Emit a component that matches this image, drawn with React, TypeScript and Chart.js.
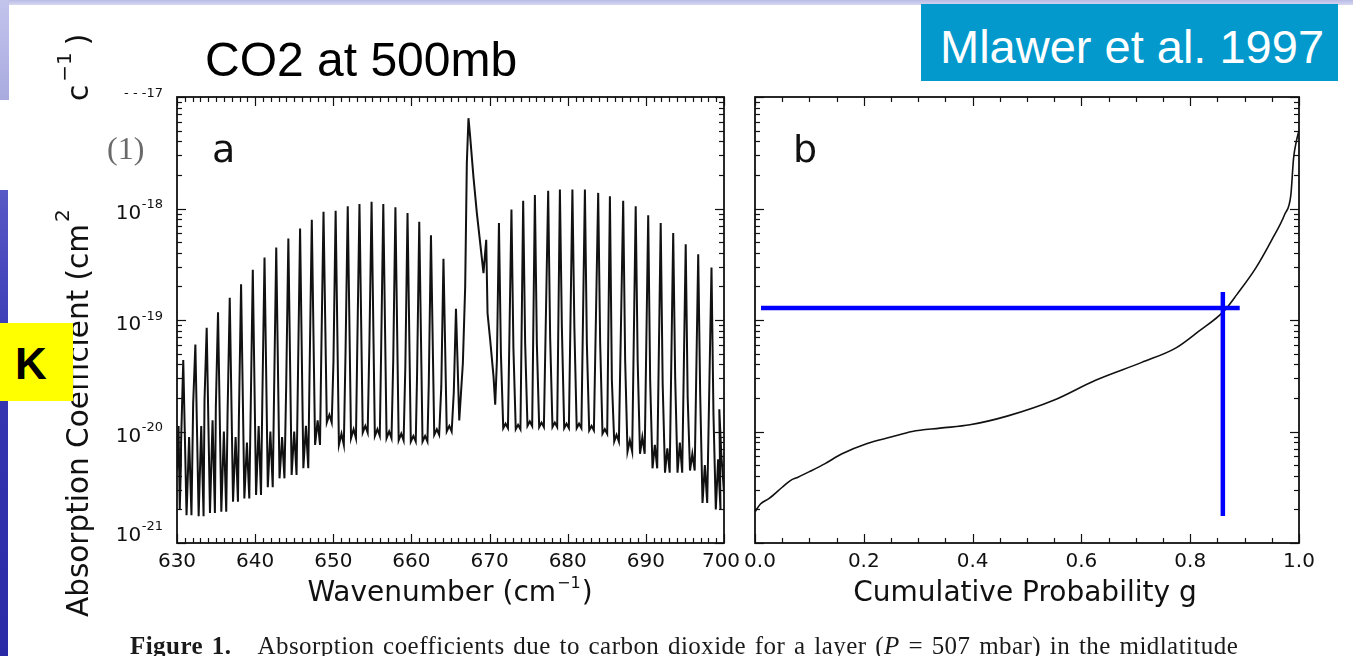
import React, { useEffect, useRef } from 'react';
import { Chart, registerables } from 'chart.js';

Chart.register(...registerables);

// ---------------- Panel a : CO2 absorption spectrum (log10 k, cm^2) ----------------
// left edge, before the first resolved P line
const edgeNu = [630.0, 630.2, 630.35, 630.5];
const edgeLogK = [-20.35, -19.95, -20.7, -20.3];

// P branch main lines
const pLineNu = [630.8, 632.35, 633.8, 635.25, 636.75, 638.2, 639.7, 641.2, 642.7, 644.25, 645.75, 647.25,
  648.75, 650.3, 651.85, 653.35, 654.9, 656.4, 657.95, 659.5, 661.0, 662.5, 664.1, 665.7];
const pPeakLogK = [-19.36, -19.22, -19.07, -18.93, -18.80, -18.68, -18.55, -18.44, -18.35, -18.27, -18.18, -18.10,
  -18.03, -18.02, -17.98, -17.96, -17.94, -17.96, -17.99, -18.04, -18.12, -18.24, -18.45, -18.90];
// weaker line level just before each main line
const pShoulderLogK = [-20.1, -19.75, -19.72, -19.78, -19.85, -19.88, -19.85, -19.72, -19.67, -19.6, -19.55, -19.45,
  -19.28, -19.38, -19.28, -19.25, -19.22, -19.3, -19.37, -19.42, -19.5, -19.57, -19.6, -19.65];
// minima after each main line
const pTroughLogK = [-20.75, -20.76, -20.73, -20.72, -20.63, -20.60, -20.57, -20.50, -20.42, -20.39, -20.33, -20.12,
  -19.92, -20.12, -20.06, -20.01, -20.04, -20.06, -20.08, -20.09, -20.09, -20.03, -20.0, -19.9];
// weak line / flat bottom between the two minima after each main line
const pMidLogK = [-20.05, -19.95, -19.9, -20.0, -20.05, -20.1, -19.95, -20.0, -20.05, -20.0, -19.95, -19.9,
  -19.85, -20.02, -19.98, -19.95, -19.98, -20.0, -20.02, -20.04, -20.04, -19.98, -19.95, -19.88];

// Q branch
const qNu = [666.58, 666.88, 667.09, 667.3, 667.52, 667.94, 668.37, 668.8, 669.22, 669.57, 669.74, 670.08, 670.51, 670.72, 670.94];
const qLogK = [-19.39, -18.70, -17.59, -17.19, -17.36, -17.72, -18.04, -18.31, -18.58, -18.28, -18.94, -19.18, -19.51, -19.76, -19.36];

// R branch main lines
const rLineNu = [671.2, 672.8, 674.3, 675.8, 677.5, 679.0, 680.6, 682.2, 683.9, 685.4, 687.1, 688.7, 690.3,
  691.9, 693.5, 695.1, 696.7, 698.4, 699.4];
const rPeakLogK = [-18.13, -18.01, -17.93, -17.88, -17.84, -17.83, -17.83, -17.83, -17.86, -17.89, -17.93, -17.98,
  -18.06, -18.13, -18.22, -18.32, -18.41, -18.53, -19.8];
const rShoulderLogK = [-19.3, -19.25, -19.2, -19.21, -19.15, -19.06, -19.06, -19.21, -19.2, -19.54, -19.36, -19.36,
  -19.54, -19.57, -19.51, -19.69, -19.66, -19.84, -20.2];
const rTroughLogK = [-19.97, -19.98, -19.95, -19.96, -19.96, -19.97, -19.97, -19.99, -20.02, -20.09, -20.18, -20.20,
  -20.33, -20.37, -20.37, -20.35, -20.64, -20.70, -20.5];
const rMidLogK = [-19.93, -19.94, -19.91, -19.92, -19.92, -19.93, -19.93, -19.95, -19.98, -20.03, -20.08, -20.05,
  -20.12, -20.15, -20.1, -20.2, -20.3, -20.25, -20.4];

const xTicksA = [630, 640, 650, 660, 670, 680, 690, 700];
const yDecades = [-21, -20, -19, -18, -17];

// ---------------- Panel b : k-distribution ----------------
const gValues = [0.0, 0.01, 0.026, 0.05, 0.065, 0.079, 0.1, 0.128, 0.16, 0.205, 0.25, 0.289, 0.34, 0.395, 0.465,
  0.549, 0.626, 0.711, 0.774, 0.816, 0.862, 0.886, 0.921, 0.949, 0.974, 0.985, 0.99, 0.995, 1.0];
const gLogK = [-20.72, -20.65, -20.60, -20.50, -20.44, -20.41, -20.36, -20.29, -20.20, -20.11, -20.05, -20.00, -19.97,
  -19.94, -19.86, -19.72, -19.54, -19.38, -19.25, -19.10, -18.92, -18.77, -18.53, -18.29, -18.05, -17.88, -17.55, -17.40, -17.3];
const xTicksB = [0, 0.2, 0.4, 0.6, 0.8, 1.0];

// blue guide lines
const guideHG = [0.011, 0.891];
const guideHK = [1.28e-19, 1.28e-19];
const guideVG = [0.86, 0.86];
const guideVK = [1.78e-19, 1.75e-21];

const W = 1353;
const H = 656;
const FONT = '"DejaVu Sans", sans-serif';
const INK = '#111111';

function spectrumPoints() {
  const pts: { x: number; y: number }[] = [];
  const k = (v: number) => Math.pow(10, v);
  edgeNu.forEach((n, i) => pts.push({ x: n, y: k(edgeLogK[i]) }));
  pLineNu.forEach((n, i) => {
    pts.push({ x: n - 0.28, y: k(pShoulderLogK[i]) });
    pts.push({ x: n, y: k(pPeakLogK[i]) });
    pts.push({ x: n + 0.42, y: k(pTroughLogK[i]) });
    if (i < pLineNu.length - 1) {
      pts.push({ x: n + 0.75, y: k(pMidLogK[i]) });
      pts.push({ x: n + 1.05, y: k(pTroughLogK[i]) });
    }
  });
  qNu.forEach((n, i) => pts.push({ x: n, y: k(qLogK[i]) }));
  rLineNu.forEach((n, i) => {
    pts.push({ x: n, y: k(rPeakLogK[i]) });
    pts.push({ x: n + 0.25, y: k(rShoulderLogK[i]) });
    pts.push({ x: n + 0.55, y: k(rTroughLogK[i]) });
    pts.push({ x: n + 0.85, y: k(rMidLogK[i]) });
    pts.push({ x: n + 1.15, y: k(rTroughLogK[i]) });
  });
  return pts;
}

function line(ctx: CanvasRenderingContext2D, x1: number, y1: number, x2: number, y2: number) {
  ctx.beginPath();
  ctx.moveTo(x1, y1);
  ctx.lineTo(x2, y2);
  ctx.stroke();
}

function drawFrame(chart: any, xMinor: number[], xMajor: (v: number) => boolean) {
  const { ctx, chartArea: a, scales } = chart;
  const xs = scales.x;
  const ys = scales.y;
  ctx.save();
  ctx.strokeStyle = INK;
  ctx.lineWidth = 1.2;
  for (const e of yDecades) {
    for (let m = 1; m < 10; m++) {
      if (e === -17 && m > 1) break;
      const y = Math.round(ys.getPixelForValue(m * Math.pow(10, e))) + 0.5;
      const len = m === 1 ? 9 : 5;
      line(ctx, a.left, y, a.left + len, y);
      line(ctx, a.right - len, y, a.right, y);
    }
  }
  for (const v of xMinor) {
    const x = Math.round(xs.getPixelForValue(v)) + 0.5;
    const len = xMajor(v) ? 9 : 5;
    line(ctx, x, a.bottom, x, a.bottom - len);
    line(ctx, x, a.top, x, a.top + len);
  }
  ctx.lineWidth = 1.8;
  ctx.strokeRect(a.left, a.top, a.right - a.left, a.bottom - a.top);
  ctx.restore();
}

function drawSupText(ctx: CanvasRenderingContext2D, parts: { t: string; size: number; rise: number; gap?: number }[], x: number, y: number, align: 'left' | 'center') {
  let total = 0;
  const widths = parts.map((p) => {
    ctx.font = `${p.size}px ${FONT}`;
    const w = ctx.measureText(p.t).width + (p.gap || 0);
    total += w;
    return w;
  });
  let cx = align === 'center' ? x - total / 2 : x;
  parts.forEach((p, i) => {
    ctx.font = `${p.size}px ${FONT}`;
    ctx.fillText(p.t, cx + (p.gap || 0), y - p.rise);
    cx += widths[i];
  });
}

const axisA = {
  id: 'axisA',
  afterDraw(chart: any) {
    const minor: number[] = [];
    for (let v = 630; v <= 700; v++) minor.push(v);
    drawFrame(chart, minor, (v) => v % 10 === 0);
    const { ctx, scales } = chart;
    const xs = scales.x;
    const ys = scales.y;
    ctx.save();
    ctx.fillStyle = INK;
    ctx.textBaseline = 'middle';
    ctx.textAlign = 'center';
    ctx.font = `20px ${FONT}`;
    xTicksA.forEach((v) => ctx.fillText(String(v), xs.getPixelForValue(v) - (v === 700 ? 3 : 0), 562));
    // y labels 10^n
    for (const e of yDecades) {
      const y = ys.getPixelForValue(Math.pow(10, e));
      const dy = e === -21 ? -7.5 : 5;
      ctx.textAlign = 'right';
      ctx.font = `13px ${FONT}`;
      const sup = '-' + String(-e);
      const sw = ctx.measureText(sup).width;
      ctx.fillText(e === -17 ? '- - ' + sup : sup, 163, y + dy - 8.5);
      if (e !== -17) {
        ctx.font = `20px ${FONT}`;
        ctx.fillText('10', 163 - sw - 0.5, y + dy);
      }
    }
    // x title
    ctx.textAlign = 'left';
    ctx.textBaseline = 'alphabetic';
    drawSupText(ctx, [
      { t: 'Wavenumber (cm', size: 28, rise: 0 },
      { t: '\u22121', size: 16, rise: 13, gap: 1 },
      { t: ')', size: 28, rise: 0, gap: 1 },
    ], 450, 601, 'center');
    // y title (rotated)
    ctx.save();
    ctx.translate(88, 617);
    ctx.rotate(-Math.PI / 2);
    drawSupText(ctx, [
      { t: 'Absorption Coefficient (cm', size: 29.5, rise: 0 },
      { t: '2', size: 20, rise: 19, gap: 2 },
    ], 0, 0, 'left');
    ctx.restore();
    ctx.save();
    ctx.translate(88, 101);
    ctx.rotate(-Math.PI / 2);
    drawSupText(ctx, [
      { t: 'c', size: 29.5, rise: 0 },
      { t: '\u22121', size: 20, rise: 17, gap: 3 },
      { t: ')', size: 29.5, rise: 0, gap: 7 },
    ], 0, 0, 'left');
    ctx.restore();
    ctx.restore();
  },
};

const axisB = {
  id: 'axisB',
  afterDraw(chart: any) {
    const minor: number[] = [];
    for (let i = 0; i <= 20; i++) minor.push(i * 0.05);
    drawFrame(chart, minor, (v) => Math.abs(v / 0.2 - Math.round(v / 0.2)) < 1e-6);
    const { ctx, scales } = chart;
    const xs = scales.x;
    ctx.save();
    ctx.fillStyle = INK;
    ctx.textBaseline = 'middle';
    ctx.textAlign = 'center';
    ctx.font = `20px ${FONT}`;
    xTicksB.forEach((v) => ctx.fillText(v.toFixed(1), xs.getPixelForValue(v) + (v === 0 ? 5 : 0), 562));
    ctx.textBaseline = 'alphabetic';
    ctx.font = `28px ${FONT}`;
    ctx.fillText('Cumulative Probability g', 1025, 601);
    ctx.restore();
  },
};

function baseOptions(left: number, right: number, xmin: number, xmax: number): any {
  return {
    responsive: false,
    animation: false,
    devicePixelRatio: 1,
    events: [],
    layout: { padding: { left, right: W - right, top: 97, bottom: H - 543 } },
    plugins: { legend: { display: false }, tooltip: { enabled: false } },
    scales: {
      x: { type: 'linear', min: xmin, max: xmax, display: false },
      y: { type: 'logarithmic', min: 1e-21, max: 1e-17, display: false },
    },
  };
}

export default function App() {
  const aRef = useRef<HTMLCanvasElement>(null);
  const bRef = useRef<HTMLCanvasElement>(null);

  useEffect(() => {
    const ca = new Chart(aRef.current as HTMLCanvasElement, {
      type: 'line',
      data: {
        datasets: [
          {
            data: spectrumPoints(),
            borderColor: INK,
            borderWidth: 2,
            pointRadius: 0,
            tension: 0,
            fill: false,
          },
        ],
      },
      options: baseOptions(177, 724, 630, 700),
      plugins: [axisA],
    } as any);

    const cb = new Chart(bRef.current as HTMLCanvasElement, {
      type: 'line',
      data: {
        datasets: [
          {
            data: guideHG.map((g, i) => ({ x: g, y: guideHK[i] })),
            borderColor: '#0000ff',
            borderWidth: 4.5,
            pointRadius: 0,
            order: 0,
          },
          {
            data: guideVG.map((g, i) => ({ x: g, y: guideVK[i] })),
            borderColor: '#0000ff',
            borderWidth: 4.5,
            pointRadius: 0,
            order: 0,
          },
          {
            data: gValues.map((g, i) => ({ x: g, y: Math.pow(10, gLogK[i]) })),
            borderColor: INK,
            borderWidth: 1.6,
            pointRadius: 0,
            tension: 0.3,
            cubicInterpolationMode: 'monotone',
            order: 1,
          },
        ],
      },
      options: baseOptions(755, 1299, 0, 1),
      plugins: [axisB],
    } as any);

    return () => {
      ca.destroy();
      cb.destroy();
    };
  }, []);

  const abs = (o: React.CSSProperties): React.CSSProperties => ({ position: 'absolute', whiteSpace: 'nowrap', lineHeight: 1, ...o });

  return (
    <div style={{ position: 'fixed', left: 0, top: 0, width: W, height: H, background: '#fff', overflow: 'hidden' }}>
      <canvas ref={aRef} width={W} height={H} style={{ position: 'absolute', left: 0, top: 0 }} />
      <canvas ref={bRef} width={W} height={H} style={{ position: 'absolute', left: 0, top: 0 }} />
      {/* slide decorations */}
      <div style={abs({ left: 0, top: 0, width: W, height: 5, background: 'linear-gradient(#b9bbe6, #d6d7f1)' })} />
      <div style={abs({ left: 0, top: 0, width: 9, height: 100, background: 'linear-gradient(#c3c4ec, #a9aadf)' })} />
      <div style={abs({ left: 0, top: 190, width: 8, height: H - 190, background: 'linear-gradient(#5858c6, #3535b2 40%, #2a2aa6)' })} />
      <div style={abs({ left: 205, top: 36, fontFamily: '"Liberation Sans", Arial, sans-serif', fontSize: 48, color: '#000' })}>CO2 at 500mb</div>
      <div style={abs({ left: 921, top: 4, width: 417, height: 77, background: '#0399cc' })} />
      <div style={abs({ left: 940, top: 23, fontFamily: '"Liberation Sans", Arial, sans-serif', fontSize: 47, color: '#fff' })}>Mlawer et al. 1997</div>
      <div style={abs({ left: 0, top: 323, width: 73, height: 78, background: '#ffff00' })} />
      <div style={abs({ left: 15, top: 342, fontFamily: '"Liberation Sans", Arial, sans-serif', fontWeight: 'bold', fontSize: 44, color: '#000' })}>K</div>
      <div style={abs({ left: 107, top: 132, fontFamily: '"Liberation Serif", serif', fontSize: 32, color: '#6a6a6a' })}>(1)</div>
      <div style={abs({ left: 212, top: 130, fontFamily: FONT, fontSize: 38, color: INK })}>a</div>
      <div style={abs({ left: 793, top: 130, fontFamily: FONT, fontSize: 38, color: INK })}>b</div>
      <div style={abs({ left: 130, top: 633, fontFamily: '"Liberation Serif", serif', fontSize: 25, letterSpacing: 0.45, wordSpacing: 2, color: '#1a1a1a' })}>
        <b>Figure 1.</b>
        <span style={{ marginLeft: 26 }}>Absorption coefficients due to carbon dioxide for a layer (<i>P</i> = 507 mbar) in the midlatitude</span>
      </div>
    </div>
  );
}
